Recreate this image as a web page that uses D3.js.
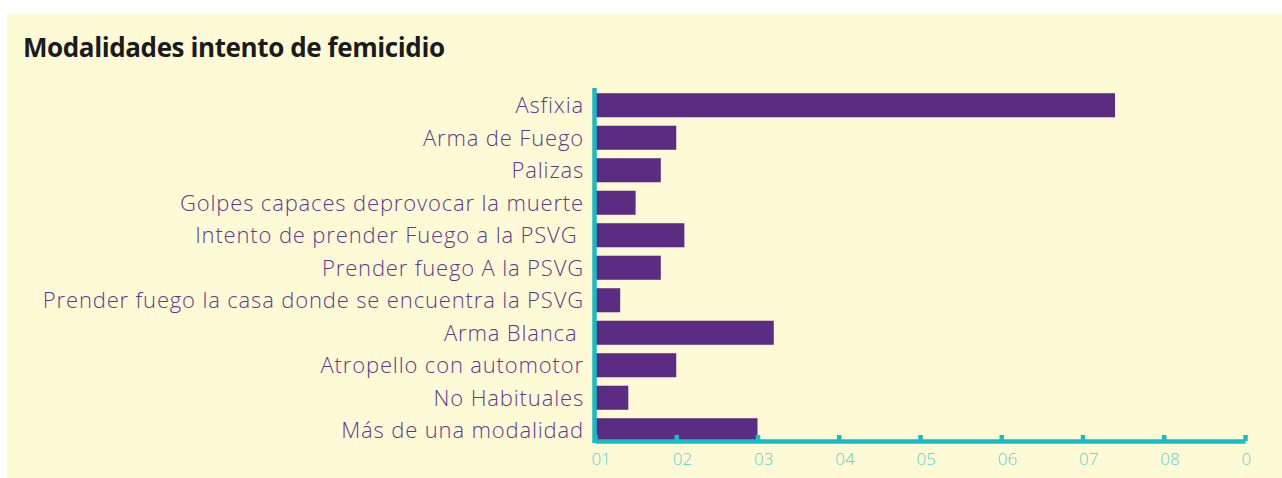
<!DOCTYPE html>
<html>
<head>
<meta charset="utf-8">
<script src="https://cdn.jsdelivr.net/npm/d3@7"></script>
<style>
  body { margin: 0; background: #ffffff; }
  svg { display: block; }
</style>
</head>
<body>
<script>
var w = 1282;
var h = 478;

// categories and values
var categories = [
    "Asfixia",
    "Arma de Fuego",
    "Palizas",
    "Golpes capaces deprovocar la muerte",
    "Intento de prender Fuego a la PSVG ",
    "Prender fuego A la PSVG",
    "Prender fuego la casa donde se encuentra la PSVG",
    "Arma Blanca ",
    "Atropello con automotor",
    "No Habituales",
    "Más de una modalidad"
];
var values = [6.4, 1.0, 0.81, 0.5, 1.1, 0.81, 0.31, 2.2, 1.0, 0.41, 2.0];
var tickValues = [0, 1, 2, 3, 4, 5, 6, 7, 8];
var tickLabels = ["01", "02", "03", "04", "05", "06", "07", "08", "0"];

var teal = "#16bcc6";
var purple = "#5a2d83";

var svg = d3.select("body")
    .append("svg")
    .attr("width", w)
    .attr("height", h);

// panel
svg.append("rect")
    .attr("x", 7)
    .attr("y", 14)
    .attr("width", w - 7)
    .attr("height", h - 14)
    .attr("fill", "#fffad6");

svg.append("text")
    .attr("x", 23)
    .attr("y", 57)
    .attr("fill", "#1b1b1b")
    .style("font-family", "'Open Sans', sans-serif")
    .style("font-weight", 700)
    .style("font-size", "26px")
    .style("letter-spacing", "-0.4px")
    .text("Modalidades intento de femicidio");

var xScale = d3.scaleLinear()
    .domain([0, 8])
    .range([595, 1245]);

var yScale = d3.scaleBand()
    .domain(categories)
    .range([89, 446.5])
    .paddingInner(0.26)
    .paddingOuter(0.13);

// bars
svg.selectAll("rect.bar")
    .data(values)
    .enter()
    .append("rect")
    .attr("class", "bar")
    .attr("x", xScale(0))
    .attr("y", function(d, i) { return yScale(categories[i]); })
    .attr("width", function(d) { return xScale(d) - xScale(0); })
    .attr("height", yScale.bandwidth())
    .attr("fill", purple);

// category labels
svg.selectAll("text.cat")
    .data(categories)
    .enter()
    .append("text")
    .attr("class", "cat")
    .attr("x", 584)
    .attr("y", function(d) { return yScale(d) + yScale.bandwidth() / 2; })
    .attr("dy", "0.36em")
    .attr("text-anchor", "end")
    .attr("fill", "#5c3a90")
    .style("white-space", "pre")
    .style("font-family", "'Open Sans', sans-serif")
    .style("font-weight", 300)
    .style("font-size", "22px")
    .style("letter-spacing", "0.85px")
    .text(function(d) { return d; });

// x axis
var xAxis = svg.append("g")
    .attr("transform", "translate(0,441)")
    .call(d3.axisTop(xScale)
        .tickValues(tickValues)
        .tickSize(6)
        .tickSizeOuter(0)
        .tickFormat(function(d, i) { return tickLabels[i]; }));

xAxis.select(".domain")
    .attr("stroke", teal)
    .attr("stroke-width", 4.5);
xAxis.selectAll(".tick line")
    .attr("stroke", teal)
    .attr("stroke-width", 4.5);
xAxis.selectAll(".tick text")
    .attr("y", 24)
    .attr("x", -4)
    .attr("text-anchor", "start")
    .attr("fill", "#5ccfd3")
    .style("font-family", "'Open Sans', sans-serif")
    .style("font-weight", 300)
    .style("font-size", "17px");

// y axis line
svg.append("line")
    .attr("x1", 594.5)
    .attr("x2", 594.5)
    .attr("y1", 88)
    .attr("y2", 443)
    .attr("stroke", teal)
    .attr("stroke-width", 4.5);
</script>
</body>
</html>
